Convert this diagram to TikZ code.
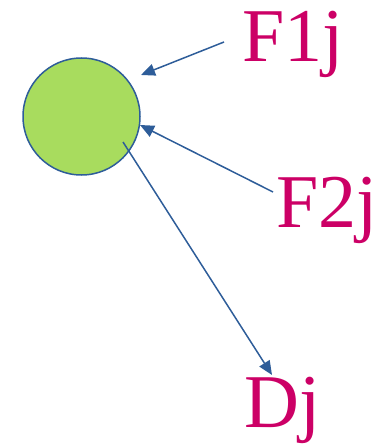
\documentclass[tikz,border=0pt]{standalone}
\usepackage{fontspec}
\setmainfont{Liberation Serif}
\newfontfamily\tnr{Liberation Serif}
\usetikzlibrary{arrows.meta}
\definecolor{lab}{HTML}{CC0066}
\definecolor{arr}{HTML}{2E5D99}
\definecolor{ball}{HTML}{A8DC5E}
\tikzset{
  lbl/.style={anchor=base west, inner sep=0pt, text=lab, font=\tnr\fontsize{76}{80}\selectfont},
  con/.style={draw=arr, line width=1.5pt, -{Triangle[length=14pt,width=12pt]}}
}
\begin{document}
\begin{tikzpicture}[x=1pt,y=-1pt]
\useasboundingbox (0,0) rectangle (385,444);
\node[circle, draw=arr, line width=1.5pt, fill=ball, minimum size=117pt, inner sep=0pt] (c) at (81.5,116.5) {};
\node[lbl] (f1) at (242,61) {F1j};
\node[lbl] (f2) at (276,227) {F2j};
\node[lbl] (dj) at (244,427) {Dj};
\coordinate (s1) at (224,42);
\coordinate (t1) at (141,75);
\coordinate (s2) at (273,192);
\coordinate (t2) at (140,125);
\coordinate (s3) at (123,142);
\coordinate (t3) at (272,375);
\draw[con] (s1) -- (t1);
\draw[con] (s2) -- (t2);
\draw[con] (s3) -- (t3);
\end{tikzpicture}
\end{document}
